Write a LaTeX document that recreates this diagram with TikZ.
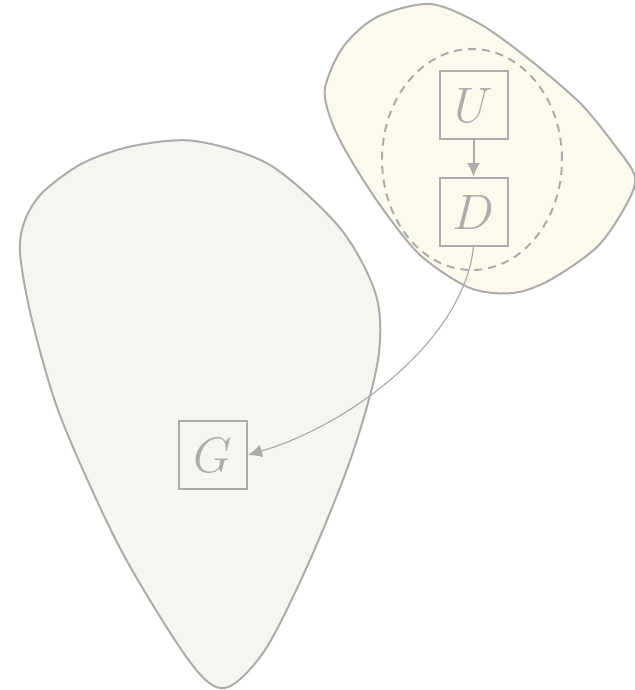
\documentclass[tikz,border=0pt]{standalone}
\usepackage{tikz}
\usetikzlibrary{arrows.meta, shapes.geometric}
\definecolor{edgegray}{RGB}{172,172,172}
\definecolor{leaf}{RGB}{244,247,240}
\definecolor{cream}{RGB}{253,249,236}

\begin{document}
\begin{tikzpicture}[x=0.5pt, y=-0.5pt, >={Latex[length=7pt,width=6.5pt]}]
    \tikzset{
        region/.style={draw=edgegray, line width=1pt},
        var/.style={draw=edgegray, line width=1pt, rectangle, minimum size=34pt,
            inner sep=0pt, text=edgegray, font=\fontsize{23}{28}\selectfont},
        edge/.style={draw=edgegray, ->},
    }
    \useasboundingbox (0,0) rectangle (634,690);

    % the two regions
    \draw[region, fill=leaf] plot[smooth cycle] coordinates {
        (20,253) (25,220) (43,192) (83,163) (133,146) (195,141) (270,165)
        (340,228) (376,295) (378,360) (352,455) (310,560) (265,650) (225,688)
        (190,662) (121,550) (61,418) (32,320)};
    \draw[region, fill=cream] plot[smooth cycle] coordinates {
        (325,88) (331,120) (348,155) (380,205) (420,255) (470,288) (513,293)
        (550,280) (597,247) (625,207) (635,177) (613,143) (580,103) (530,60)
        (480,24) (430,4) (377,17) (343,47)};
    \node[draw=edgegray, line width=1pt, dash pattern=on 4pt off 3pt, ellipse,
        minimum width=90pt, minimum height=110.5pt, inner sep=0pt] (inner) at (472,159.5) {};

    \node[var] (U) at (473.5,105) {$U$};
    \node[var] (D) at (473.5,212) {$D$};
    \node[var] (G) at (213,455) {$G$};

    \draw[edge, line width=1pt] (U) -- (D);
    \draw[edge, line width=0.6pt] (D.south) .. controls +(-10,93) and +(102,-30) .. (G.east);
\end{tikzpicture}
\end{document}
